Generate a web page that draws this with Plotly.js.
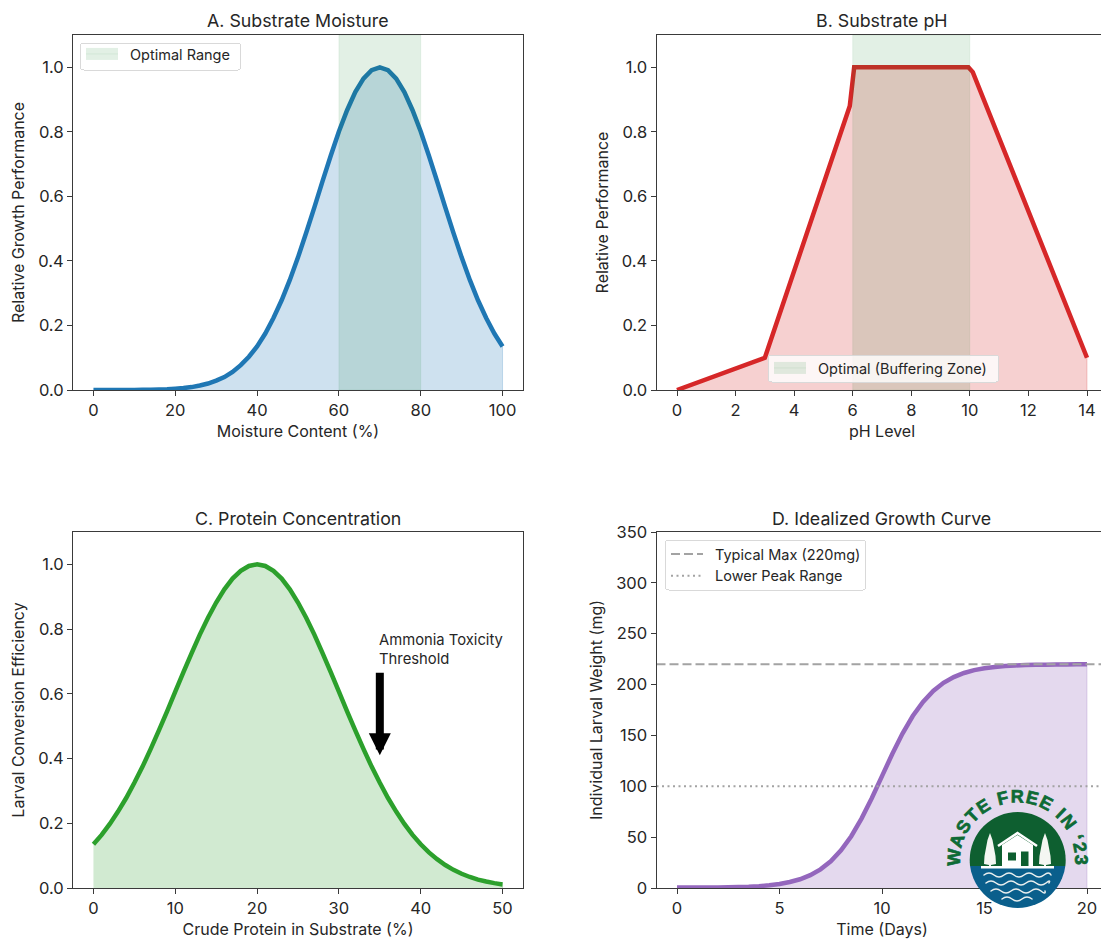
<!DOCTYPE html>
<html><head><meta charset="utf-8">
<script src="https://cdn.plot.ly/plotly-3.0.1.min.js"></script>
<style>html,body{margin:0;padding:0;background:#fff;overflow:hidden;width:1101px;height:940px}
#wrap{position:relative;width:1101px;height:940px;overflow:hidden}
#chart{position:absolute;left:0;top:0}
#logo{position:absolute;left:930px;top:780px;pointer-events:none}</style>
</head><body><div id="wrap"><div id="chart"></div>
<svg id="logo" width="171" height="160" viewBox="0 0 171 160" xmlns="http://www.w3.org/2000/svg">
  <defs><path id="arc" d="M 33.8 100 A 57.5 57.5 0 1 1 141.6 100"/></defs>
  <clipPath id="top"><rect x="0" y="0" width="171" height="86"/></clipPath>
  <clipPath id="bot"><rect x="0" y="86" width="171" height="74"/></clipPath>
  <circle cx="87.7" cy="80" r="48" fill="#0e5f30" clip-path="url(#top)"/>
  <circle cx="87.7" cy="80" r="48" fill="#0a5f8c" clip-path="url(#bot)"/>
  <rect x="51" y="86" width="73" height="2.5" fill="#fff"/>
  <path d="M72 65 V86 H103 V65 L87.5 55 Z" fill="#fff"/>
  <path d="M68 66 L87.5 53 L107 66" fill="none" stroke="#fff" stroke-width="2.6"/>
  <rect x="78" y="72.5" width="8" height="8" fill="#0e5f30"/>
  <rect x="91" y="71.5" width="7.5" height="14.5" fill="#0e5f30"/>
  <path d="M60 53 L62.5 60 L64 68 L65.5 76 L66 84 L61 85 L61 86 L59 86 L59 85 L54 84 L54.5 76 L56 68 L57.5 60 Z" fill="#f4f6f2"/>
  <path d="M115 53 L117.5 60 L119 68 L120.5 76 L121 84 L116 85 L116 86 L114 86 L114 85 L109 84 L109.5 76 L111 68 L112.5 60 Z" fill="#f4f6f2"/>
  <g fill="none" stroke="#e8eeee" stroke-width="1.5" stroke-linecap="round">
    <path d="M54 95 q5 -4 10 0 t10 0 t10 0 t10 0 t10 0 t10 0 t7 0"/>
    <path d="M56 103 q5 -4 10 0 t10 0 t10 0 t10 0 t10 0 t10 0 t3 0"/>
    <path d="M61 111 q5 -4 10 0 t10 0 t10 0 t10 0 t10 0 t4 0"/>
    <path d="M72 119 q5 -4 10 0 t10 0 t10 0"/>
  </g>
  <text font-family="Liberation Sans" font-weight="bold" font-size="18" fill="#0e6b35" stroke="#0e6b35" stroke-width="0.7" letter-spacing="1.3" text-anchor="middle"><textPath href="#arc" startOffset="50%">WASTE FREE IN ‘23</textPath></text>
</svg></div>
<script>
// Panel A: moisture
const moistureX = [0,2,4,6,8,10,12,14,16,18,20,22,24,26,28,30,32,34,36,38,40,42,44,46,48,50,52,54,56,58,60,62,64,66,68,70,72,74,76,78,80,82,84,86,88,90,92,94,96,98,100];
const moistureY = [0,0,0,0.0001,0.0002,0.0003,0.0006,0.0009,0.0015,0.0024,0.004,0.006,0.009,0.014,0.02,0.029,0.04,0.056,0.077,0.103,0.135,0.175,0.223,0.278,0.341,0.411,0.487,0.566,0.647,0.726,0.801,0.867,0.923,0.965,0.991,1,0.991,0.965,0.923,0.867,0.801,0.726,0.647,0.566,0.487,0.411,0.341,0.278,0.223,0.175,0.135];
const moistureOptimal = [60,80];
// Panel B: pH
const phX = [0,3,5.9,6.05,9.95,10.1,14];
const phY = [0,0.1,0.88,1.0,1.0,0.985,0.1];
const phOptimal = [6,10];
// Panel C: protein
const proteinX = [0,1,2,3,4,5,6,7,8,9,10,11,12,13,14,15,16,17,18,19,20,21,22,23,24,25,26,27,28,29,30,31,32,33,34,35,36,37,38,39,40,41,42,43,44,45,46,47,48,49,50];
const proteinY = [0.135,0.164,0.198,0.236,0.278,0.325,0.375,0.43,0.487,0.546,0.607,0.667,0.726,0.783,0.835,0.882,0.923,0.956,0.98,0.995,1,0.995,0.98,0.956,0.923,0.882,0.835,0.783,0.726,0.667,0.607,0.546,0.487,0.43,0.375,0.325,0.278,0.236,0.198,0.164,0.135,0.11,0.089,0.071,0.056,0.044,0.034,0.026,0.02,0.015,0.011];
const ammoniaX = 35, ammoniaTipY = 0.41, ammoniaTailY = 0.67;
// Panel D: growth
const dayX = [0,0.5,1,1.5,2,2.5,3,3.5,4,4.5,5,5.5,6,6.5,7,7.5,8,8.5,9,9.5,10,10.5,11,11.5,12,12.5,13,13.5,14,14.5,15,15.5,16,16.5,17,17.5,18,18.5,19,19.5,20];
const weightY = [0.5,0.5,0.5,0.5,0.6,0.7,0.9,1.2,1.8,2.7,4,5.9,8.6,12.6,18.3,26.2,37,50.9,68.2,88.3,110,131.7,151.8,169.1,183,193.8,201.7,207.4,211.4,214.2,216,217.3,218.2,218.8,219.2,219.5,219.6,219.75,219.84,219.9,220];
const typicalMax = 220, lowerPeak = 100;

const titles = ['A. Substrate Moisture','B. Substrate pH','C. Protein Concentration','D. Idealized Growth Curve'];
const xTitles = ['Moisture Content (%)','pH Level','Crude Protein in Substrate (%)','Time (Days)'];
const yTitles = ['Relative Growth Performance','Relative Performance','Larval Conversion Efficiency','Individual Larval Weight (mg)'];
const legendNames = {a:'Optimal Range', b:'Optimal (Buffering Zone)', d1:'Typical Max (220mg)', d2:'Lower Peak Range'};
const colors = {blue:'#1f77b4', red:'#d62728', green:'#2ca02c', purple:'#9467bd'};
const fills = {blue:'rgba(31,119,180,0.22)', red:'rgba(214,39,40,0.22)', green:'rgba(44,160,44,0.22)', purple:'rgba(148,103,189,0.25)'};
const spanFill = 'rgba(20,128,40,0.12)', spanEdge = 'rgba(20,128,40,0.07)';

const W = 1130, H = 940, FONT = 'Inter, "Noto Sans", sans-serif', INK = '#262626', SPINE = '#3a3a3a';

function curve(x, y, c, xa, ya) {
  return [{x, y, xaxis:xa, yaxis:ya, mode:'lines', fill:'tozeroy', fillcolor:fills[c],
           line:{color:colors[c], width:4.5, shape:'linear', simplify:false}, showlegend:false, hoverinfo:'skip'},
          {x:[x[x.length-1],x[x.length-1]], y:[0,y[y.length-1]], xaxis:xa, yaxis:ya, mode:'lines',
           line:{color:fills[c], width:1}, showlegend:false, hoverinfo:'skip'}];
}
function span(r, top, xa, ya, name, legend) {
  return {x:[r[0],r[0],r[1],r[1],r[0]], y:[0,top,top,0,0], xaxis:xa, yaxis:ya, mode:'lines', fill:'toself',
          fillcolor:spanFill, line:{color:spanEdge, width:1}, name, legend, hoverinfo:'skip'};
}
const traces = [
  ...curve(moistureX, moistureY, 'blue', 'x', 'y'),
  span(moistureOptimal, 1.1, 'x', 'y', legendNames.a, 'legend'),
  ...curve(phX, phY, 'red', 'x2', 'y2'),
  span(phOptimal, 1.1, 'x2', 'y2', legendNames.b, 'legend2'),
  ...curve(proteinX, proteinY, 'green', 'x3', 'y3'),
  ...curve(dayX, weightY, 'purple', 'x4', 'y4'),
  {x:[-1,21], y:[typicalMax,typicalMax], xaxis:'x4', yaxis:'y4', mode:'lines', name:legendNames.d1, legend:'legend3',
   line:{color:'#a3a3a3', width:2, dash:'9px,4px'}, hoverinfo:'skip'},
  {x:[-1,21], y:[lowerPeak,lowerPeak], xaxis:'x4', yaxis:'y4', mode:'lines', name:legendNames.d2, legend:'legend3',
   line:{color:'#a3a3a3', width:2, dash:'2px,3.5px'}, hoverinfo:'skip'}
];
const px = (a,b)=>[a/W,b/W], py = (t,b)=>[1-b/H,1-t/H];
const TICK = 16.5, AXT = 16;
function xaxis(dom, range, dtick, i, idx) {
  return {domain:dom, range, dtick, tick0:0, showgrid:false, zeroline:false, showline:true, mirror:true, linecolor:SPINE, linewidth:1,
    ticks:'outside', ticklen:5, tickwidth:1, tickcolor:SPINE, anchor:i, automargin:false,
    tickfont:{size:TICK,color:INK,family:FONT}, title:{text:xTitles[idx], font:{size:AXT,color:INK,family:FONT}, standoff:7}};
}
function yaxis(dom, range, dtick, fmt, a, idx) {
  return {domain:dom, range, dtick, tick0:0, tickformat:fmt, showgrid:false, zeroline:false, showline:true, mirror:true, linecolor:SPINE, linewidth:1,
    ticks:'outside', ticklen:5, tickwidth:1, tickcolor:SPINE, anchor:a, automargin:false,
    tickfont:{size:TICK,color:INK,family:FONT}, title:{text:yTitles[idx], font:{size:AXT,color:INK,family:FONT}, standoff:9}};
}
const legendBase = {bgcolor:'rgba(255,255,255,0.8)', bordercolor:'#d9d9d9', borderwidth:1, font:{size:14.5,color:INK,family:FONT},
  xanchor:'left', yanchor:'top', xref:'paper', yref:'paper', itemwidth:39, tracegroupgap:0};
const titleAnn = (t,cx,y)=>({text:t, xref:'paper', yref:'paper', x:cx/W, y:1-y/H, xanchor:'center', yanchor:'middle', showarrow:false, font:{size:17.8,color:INK,family:FONT}});
const layout = {
  width:W, height:H, margin:{l:0,r:0,t:0,b:0}, paper_bgcolor:'#fff', plot_bgcolor:'#fff', font:{family:FONT,color:INK},
  hovermode:false, showlegend:true,
  xaxis: xaxis(px(73,523), [-5,105], 20, 'y', 0),
  xaxis2:xaxis(px(656.5,1107.5), [-0.7,14.7], 2, 'y2', 1),
  xaxis3:xaxis(px(73,523), [-2.5,52.5], 10, 'y3', 2),
  xaxis4:xaxis(px(656.5,1107.5), [-1,21], 5, 'y4', 3),
  yaxis: yaxis(py(35,390), [0,1.1], 0.2, '.1f', 'x', 0),
  yaxis2:yaxis(py(35,390), [0,1.1], 0.2, '.1f', 'x2', 1),
  yaxis3:yaxis(py(532,888), [0,1.1], 0.2, '.1f', 'x3', 2),
  yaxis4:yaxis(py(532,888), [0,350], 50, '', 'x4', 3),
  legend: {...legendBase, x:80/W, y:1-37/H},
  legend2:{...legendBase, x:768/W, y:1-351/H},
  legend3:{...legendBase, x:665/W, y:1-537/H},
  annotations:[
    titleAnn(titles[0],298,20), titleAnn(titles[1],882,20), titleAnn(titles[2],298,518), titleAnn(titles[3],882,518),
    {x:ammoniaX, y:ammoniaTipY, ax:ammoniaX, ay:ammoniaTailY, xref:'x3', yref:'y3', axref:'x3', ayref:'y3', text:'',
     showarrow:true, arrowhead:2, arrowsize:0.55, arrowwidth:8, arrowcolor:'#000'},
    {x:ammoniaX, y:0.676, xref:'x3', yref:'y3', xanchor:'left', yanchor:'bottom', align:'left', showarrow:false,
     text:'Ammonia Toxicity<br>Threshold', font:{size:14.8,color:INK,family:FONT}, xshift:-2, borderpad:0}
  ]
};
// legend frame: [selector, offset from legend top, height, width]
const frames = [['.legend',6,27,160],['.legend2',4,27,230],['.legend3',3,50,200]];
Plotly.newPlot('chart', traces, layout, {displayModeBar:false, staticPlot:true}).then(()=>{
  frames.forEach(([l,dy,h,w])=>{
    document.querySelectorAll(l+' .legendfill path').forEach(p=>p.setAttribute('d','M5,-6h32v12h-32z'));
    document.querySelectorAll(l+' .legendlines path').forEach(p=>p.setAttribute('d','M5,0h32'));
    document.querySelectorAll(l+' rect.bg').forEach(r=>{
      r.setAttribute('rx','3');r.setAttribute('ry','3');
      r.setAttribute('y',dy);r.setAttribute('height',h);r.setAttribute('width',w);
    });
  });
});
</script></body></html>
